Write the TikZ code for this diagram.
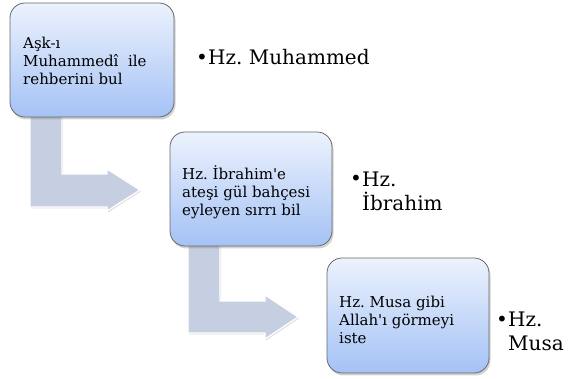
\documentclass[tikz,border=0pt]{standalone}
\usepackage{fontspec}
\setmainfont{DejaVu Serif}[Ligatures=TeXOff]
\usetikzlibrary{shadows}
\definecolor{boxtop}{RGB}{236,242,253}
\definecolor{boxbot}{RGB}{164,194,245}
\definecolor{boxline}{RGB}{105,105,105}
\definecolor{arrowfill}{RGB}{197,207,225}
\tikzset{
  stepbox/.style={draw=boxline, line width=0.8pt, rounded corners=15pt,
    top color=boxtop, bottom color=boxbot,
    drop shadow={opacity=0.35, shadow xshift=1.5pt, shadow yshift=-2.5pt},
    inner sep=0pt},
  bentarrow/.style={fill=arrowfill, draw=white, line width=1.2pt,
    drop shadow={opacity=0.25, shadow xshift=1pt, shadow yshift=-1.5pt}},
  boxtext/.style={anchor=base west, align=left, inner sep=0pt,
    font=\fontsize{15}{18.3}\selectfont},
  bultext/.style={anchor=base west, align=left, inner sep=0pt,
    font=\fontsize{20}{24.5}\selectfont},
}
\begin{document}
\frenchspacing
\begin{tikzpicture}[x=1pt,y=-1pt]
\useasboundingbox[fill=white] (0,0) rectangle (571,379);
% bent arrows
\path[bentarrow] (30,112) -- (62,112) -- (62,174) -- (107,174) -- (107,169)
  -- (140,190) -- (107,211) -- (107,207) -- (30,207) -- cycle;
\path[bentarrow] (188,240) -- (220,240) -- (220,301) -- (265,301) -- (265,295)
  -- (298,317) -- (265,339) -- (265,333) -- (188,333) -- cycle;
% boxes
\node[stepbox, minimum width=164pt, minimum height=114pt] (b1) at (92,60) {};
\node[stepbox, minimum width=162pt, minimum height=114pt] (b2) at (251,189) {};
\node[stepbox, minimum width=162pt, minimum height=115pt] (b3) at (408,315.5) {};
% box texts (anchor = baseline of last line)
\node[boxtext] (t1) at (23,85) {Aşk-ı\\Muhammedî\ \ ile\\rehberini bul};
\node[boxtext] (t2) at (182,216) {Hz. İbrahim'e\\ateşi gül bahçesi\\eyleyen sırrı bil};
\node[boxtext] (t3) at (339,344) {Hz. Musa gibi\\Allah'ı görmeyi\\iste};
% bullets
\node[bultext, anchor=base east] (d1) at (208,65) {•};
\node[bultext] (l1) at (208,65) {Hz. Muhammed};
\node[bultext, anchor=base east] (d2) at (362,186) {•};
\node[bultext] (l2) at (362,211) {Hz.\\İbrahim};
\node[bultext, anchor=base east] (d3) at (508,327) {•};
\node[bultext] (l3) at (508,351) {Hz.\\Musa};
\end{tikzpicture}
\end{document}
